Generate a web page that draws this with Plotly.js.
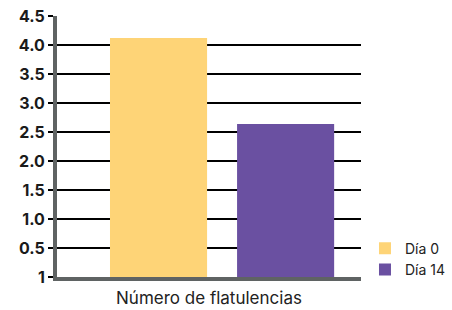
<!DOCTYPE html>
<html>
<head>
<meta charset="utf-8">
<script src="https://cdn.plot.ly/plotly-3.0.1.min.js"></script>
<style>html,body{margin:0;padding:0;background:#fff;}#chart{width:452px;height:310px;}</style>
</head>
<body>
<div id="chart"></div>
<script>
const categories = ["Número de flatulencias"];
const seriesNames = ["Día 0", "Día 14"];
const dia0 = [4.12];
const dia14 = [2.64];
const yTickVals = [0, 0.5, 1, 1.5, 2, 2.5, 3, 3.5, 4, 4.5];
const yTickText = ["1", "0.5", "1.0", "1.5", "2.0", "2.5", "3.0", "3.5", "4.0", "4.5"];

const traces = [
  {type: "bar", name: seriesNames[0], legendgroup: "g0", x: categories, y: dia0, marker: {color: "#FED477"}},
  {type: "bar", name: seriesNames[1], legendgroup: "g1", x: categories, y: dia14, marker: {color: "#6A50A1"}}
];

const layout = {
  width: 452, height: 310,
  margin: {l: 57, r: 91, t: 16, b: 33, pad: 0},
  paper_bgcolor: "#fff", plot_bgcolor: "#fff",
  barmode: "group", bargap: 0.164, bargroupgap: 0.236,
  showlegend: true,
  legend: {xref: "container", yref: "container", x: 0.8075, y: 0.0785, xanchor: "left", yanchor: "bottom",
    font: {family: "Inter, sans-serif", size: 14, color: "#222"}, itemwidth: 30, tracegroupgap: 21,
    bgcolor: "rgba(0,0,0,0)", traceorder: "normal"},
  xaxis: {
    type: "category", range: [-0.543, 0.457], showticklabels: false, ticks: "",
    showline: true, linecolor: "#5f6363", linewidth: 4, showgrid: false, zeroline: false,
    title: {text: categories[0], font: {family: "Inter, sans-serif", size: 17, color: "#222"}, standoff: 13}
  },
  yaxis: {
    range: [0, 4.5], tickmode: "array", tickvals: yTickVals, ticktext: yTickText,
    showline: true, linecolor: "#5f6363", linewidth: 4,
    showgrid: true, gridcolor: "#000", gridwidth: 1.5, zeroline: false,
    ticks: "outside", ticklen: 5, tickcolor: "#000", tickwidth: 1.5,
    tickfont: {family: "Inter, sans-serif", size: 16, color: "#1a1a1a", weight: 700}
  },
  font: {family: "Inter, sans-serif"}
};

Plotly.newPlot("chart", traces, layout, {displayModeBar: false, staticPlot: true});
</script>
</body>
</html>
